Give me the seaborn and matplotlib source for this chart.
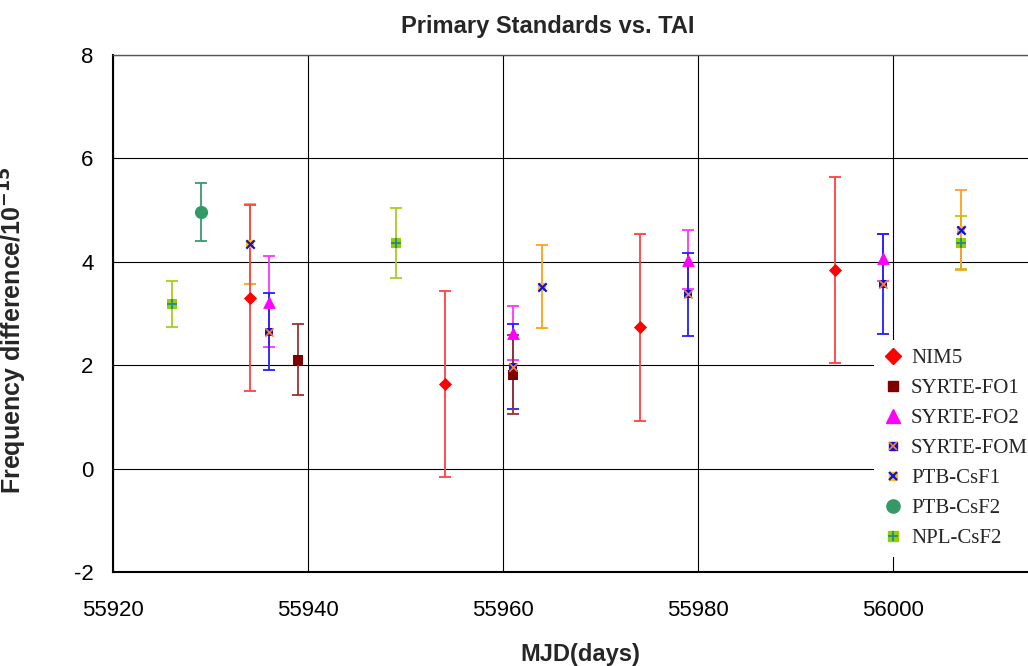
import pandas as pd
import numpy as np
import matplotlib
matplotlib.use('Agg')
import matplotlib.pyplot as plt
import seaborn as sns
from matplotlib.lines import Line2D
from matplotlib.ticker import MultipleLocator

# data (MJD, value, +/- uncertainty)
nim5_mjd = [55934, 55954, 55974, 55994]
nim5_val = [3.30, 1.63, 2.73, 3.84]
nim5_err = [1.80, 1.80, 1.80, 1.80]

fo1_mjd = [55939, 55961]
fo1_val = [2.11, 1.82]
fo1_err = [0.69, 0.76]

fo2_mjd = [55936, 55961, 55979, 55999]
fo2_val = [3.23, 2.63, 4.04, 4.08]
fo2_err = [0.88, 0.52, 0.57, 0.46]

fom_mjd = [55936, 55961, 55979, 55999]
fom_val = [2.65, 1.97, 3.37, 3.57]
fom_err = [0.74, 0.82, 0.80, 0.97]

csf1_mjd = [55934, 55964, 56007]
csf1_val = [4.35, 3.52, 4.62]
csf1_err = [0.77, 0.80, 0.77]

ptbf2_mjd = [55929]
ptbf2_val = [4.97]
ptbf2_err = [0.56]

npl_mjd = [55926, 55949, 56007]
npl_val = [3.18, 4.36, 4.37]
npl_err = [0.44, 0.68, 0.51]

sns.set_style('white')
plt.rcParams['font.family'] = ['Liberation Sans', 'DejaVu Sans']
plt.rcParams['axes.unicode_minus'] = False

fig = plt.figure(figsize=(10.28, 6.66), dpi=100)
# axes run past the right edge like in the original screenshot
ax = fig.add_axes([113/1028, 94/666, 975/1028, 517/666])

# error bars first
ax.errorbar(npl_mjd, npl_val, yerr=npl_err, fmt='none', ecolor='#A6CE1E', elinewidth=1.3, capsize=4, capthick=1.3, zorder=2)
ax.errorbar(ptbf2_mjd, ptbf2_val, yerr=ptbf2_err, fmt='none', ecolor='#3A9A6E', elinewidth=1.3, capsize=4, capthick=1.3, zorder=2)
ax.errorbar(csf1_mjd, csf1_val, yerr=csf1_err, fmt='none', ecolor='#FF9F1C', elinewidth=1.3, capsize=4, capthick=1.3, zorder=2)
ax.errorbar(nim5_mjd, nim5_val, yerr=nim5_err, fmt='none', ecolor='#FF4040', elinewidth=1.3, capsize=4, capthick=1.3, zorder=2)
ax.errorbar(fo2_mjd, fo2_val, yerr=fo2_err, fmt='none', ecolor='#FF33FF', elinewidth=1.3, capsize=4, capthick=1.3, zorder=2)
ax.errorbar(fom_mjd, fom_val, yerr=fom_err, fmt='none', ecolor='#2020FF', elinewidth=1.3, capsize=4, capthick=1.3, zorder=2)
ax.errorbar(fo1_mjd, fo1_val, yerr=fo1_err, fmt='none', ecolor='#993333', elinewidth=1.3, capsize=4, capthick=1.3, zorder=2)

# markers
sns.scatterplot(x=npl_mjd, y=npl_val, marker='s', color='#99CC00', s=45, linewidth=0, ax=ax, zorder=4)
sns.scatterplot(x=npl_mjd, y=npl_val, marker='+', color='#1E8C8C', s=45, linewidth=1.3, ax=ax, zorder=5)
sns.scatterplot(x=ptbf2_mjd, y=ptbf2_val, marker='o', color='#339966', s=90, linewidth=0, ax=ax, zorder=4)
sns.scatterplot(x=csf1_mjd, y=csf1_val, marker='s', color='#FFC000', s=36, linewidth=0, ax=ax, zorder=4)
sns.scatterplot(x=csf1_mjd, y=csf1_val, marker='x', color='#1010EE', s=36, linewidth=1.6, ax=ax, zorder=5)
sns.scatterplot(x=nim5_mjd, y=nim5_val, marker='D', color='red', s=45, linewidth=0, ax=ax, zorder=4)
sns.scatterplot(x=fo2_mjd, y=fo2_val, marker='^', color='magenta', s=85, linewidth=0, ax=ax, zorder=4)
sns.scatterplot(x=fom_mjd, y=fom_val, marker='s', color='#1010DD', s=36, linewidth=0, ax=ax, zorder=4)
sns.scatterplot(x=fom_mjd, y=fom_val, marker='x', color='#FF7F27', s=36, linewidth=1.2, ax=ax, zorder=5)
sns.scatterplot(x=fo1_mjd, y=fo1_val, marker='s', color='#800000', s=60, linewidth=0, ax=ax, zorder=4)

ax.set_xlim(55920, 56020)
ax.set_ylim(-2, 8)
ax.xaxis.set_minor_locator(MultipleLocator(5))
ax.yaxis.set_major_locator(MultipleLocator(2))
ax.yaxis.set_minor_locator(MultipleLocator(1))
ax.set_xticks([55920, 55940, 55960, 55980, 56000])
ax.grid(True, which='major', color='black', linewidth=0.8, zorder=0)
ax.set_axisbelow(True)
ax.tick_params(axis='both', which='major', direction='in', length=6, labelsize=16, colors='black')
ax.tick_params(axis='x', which='major', pad=20)
ax.tick_params(axis='y', which='major', pad=14)
ax.tick_params(axis='both', which='minor', direction='in', length=6, width=0.8, color='#333333')
for side in ['left', 'bottom']:
    ax.spines[side].set_color('black')
    ax.spines[side].set_linewidth(1.5)
ax.spines['top'].set_color('#555555')
ax.spines['top'].set_linewidth(1.0)

fig.text(548/1028, 1 - 27/666, 'Primary Standards vs. TAI', ha='center', va='center',
         fontsize=17, fontweight='bold')
fig.text(580/1028, 1 - 655/666, 'MJD(days)', ha='center', va='center',
         fontsize=17, fontweight='bold')
fig.text(29/1028, 1 - 330/666, r'Frequency difference/10$^{\mathbf{-15}}$', ha='right', va='center',
         rotation=90, fontsize=18, fontweight='bold')

# legend
handles = [
    Line2D([], [], marker='D', color='red', linestyle='none', markersize=8),
    Line2D([], [], marker='s', color='#800000', linestyle='none', markersize=7.5),
    Line2D([], [], marker='^', color='magenta', linestyle='none', markersize=9.5),
    (Line2D([], [], marker='s', color='#1010DD', linestyle='none', markersize=6),
     Line2D([], [], marker='x', color='#FF7F27', linestyle='none', markersize=6, markeredgewidth=1.2)),
    (Line2D([], [], marker='s', color='#FFC000', linestyle='none', markersize=6),
     Line2D([], [], marker='x', color='#1010EE', linestyle='none', markersize=6, markeredgewidth=1.6)),
    Line2D([], [], marker='o', color='#339966', linestyle='none', markersize=9.5),
    (Line2D([], [], marker='s', color='#99CC00', linestyle='none', markersize=6.5),
     Line2D([], [], marker='+', color='#1E8C8C', linestyle='none', markersize=6.5, markeredgewidth=1.3)),
]
labels = ['NIM5', 'SYRTE-FO1', 'SYRTE-FO2', 'SYRTE-FOM', 'PTB-CsF1', 'PTB-CsF2', 'NPL-CsF2']
leg = ax.legend(handles, labels, loc='upper left',
                bbox_to_anchor=(864/1028, 1 - 330/666), bbox_transform=fig.transFigure,
                frameon=True, facecolor='white', edgecolor='none', framealpha=1,
                fancybox=False, handlelength=1.0, handletextpad=0.35, labelspacing=0.5,
                borderpad=0.4, prop={'family': 'Liberation Serif', 'size': 15})
leg.set_zorder(10)

fig.savefig('out.png', dpi=100)
